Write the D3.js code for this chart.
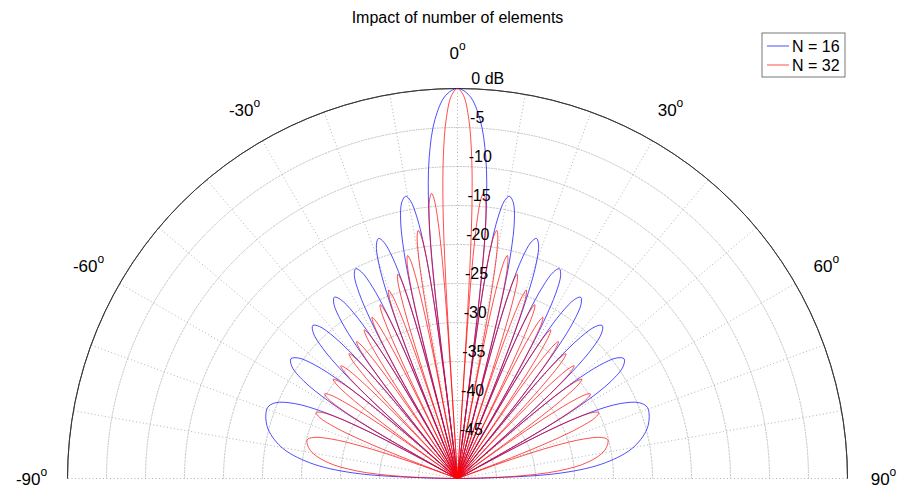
<!DOCTYPE html>
<html>
<head>
<meta charset="utf-8">
<title>Impact of number of elements</title>
<script src="https://cdn.jsdelivr.net/npm/d3@7"></script>
<style>
  body { margin: 0; background: #fff; }
  text { font-family: "Liberation Sans", Arial, sans-serif; fill: #000; }
</style>
</head>
<body>
<div id="chart"></div>
<script>
// ---- data (one side, the pattern is symmetric) ----
var seriesNames = ["N = 16", "N = 32"];
var seriesColors = ["#0000ff", "#ff0000"];

// N = 16: null angles (deg) and side lobe peaks
var nulls16 = [7.2, 14.5, 22.0, 30.0, 38.7, 48.6, 61.0, 90];
var peakAngles16 = [10.4, 18.2, 25.9, 34.2, 43.4, 54.3, 69.6];
var peakDb16 = [-13.2, -17.6, -20.1, -21.9, -23.0, -23.7, -24.0];

// N = 32
var nulls32 = [3.6, 7.2, 10.8, 14.5, 18.2, 22.0, 25.9, 30.0, 34.2, 38.7, 43.4, 48.6, 54.3, 61.0, 69.6, 90];
var peakAngles32 = [5.2, 9.0, 12.6, 16.3, 20.1, 24.0, 27.9, 32.1, 36.4, 41.0, 46.0, 51.4, 57.5, 65.0, 75.6];
var peakDb32 = [-13.3, -17.8, -20.7, -22.7, -24.3, -25.6, -26.6, -27.5, -28.2, -28.8, -29.2, -29.6, -29.8, -30.0, -30.1];

// outline of one lobe: fraction of the way from peak to null, and drop in dB
var mainLobeShape = [[0, 0], [0.25, -0.9], [0.5, -3.9], [0.7, -8.7], [0.85, -15.4], [0.95, -25.6], [1, -99]];
var sideLobeShape = [[0, 0], [0.25, -0.7], [0.5, -3.0], [0.7, -6.9], [0.85, -12.6], [0.95, -22.1], [1, -99]];

var dbTicks = [0, -5, -10, -15, -20, -25, -30, -35, -40, -45];
var angleTicks = [-90, -60, -30, 0, 30, 60, 90];
var spokeAngles = d3.range(-90, 91, 10);

// ---- layout ----
var W = 902, H = 490;
var cx = 457.5, cy = 478.5, R = 390;

var svg = d3.select("#chart").append("svg")
  .attr("width", W).attr("height", H);

var r = d3.scaleLinear().domain([-50, 0]).range([0, R]).clamp(true);
var rad = function(deg) { return deg * Math.PI / 180; };

var g = svg.append("g").attr("transform", "translate(" + cx + "," + cy + ")");

// grid circles (dotted)
g.selectAll(".ring")
  .data(dbTicks.filter(function(d) { return d < 0; }))
  .enter().append("path")
    .attr("class", "ring")
    .attr("d", function(d) {
      return d3.arc()({innerRadius: r(d), outerRadius: r(d), startAngle: rad(-90), endAngle: rad(90)});
    })
    .attr("fill", "none")
    .attr("stroke", "#a0a0a0")
    .attr("stroke-width", 0.8)
    .attr("stroke-dasharray", "1,2.5");

// spokes
g.selectAll(".spoke")
  .data(spokeAngles)
  .enter().append("line")
    .attr("class", "spoke")
    .attr("x1", 0).attr("y1", 0)
    .attr("x2", function(d) { return R * Math.sin(rad(d)); })
    .attr("y2", function(d) { return -R * Math.cos(rad(d)); })
    .attr("stroke", "#a0a0a0")
    .attr("stroke-width", 0.8)
    .attr("stroke-dasharray", "1,2.5");

// outer circle
g.append("path")
  .attr("d", d3.arc()({innerRadius: R, outerRadius: R, startAngle: rad(-90), endAngle: rad(90)}))
  .attr("fill", "none")
  .attr("stroke", "#333")
  .attr("stroke-width", 0.9);

// ---- pattern ----
function lobePoints(peakAng, peakDb, nullLeft, nullRight, shape) {
  var pts = [];
  // from the left null up to the peak
  for (var i = shape.length - 1; i >= 0; i--) {
    var f = shape[i][0];
    pts.push([peakAng - f * (peakAng - nullLeft), peakDb + shape[i][1]]);
  }
  for (var j = 1; j < shape.length; j++) {
    var f2 = shape[j][0];
    pts.push([peakAng + f2 * (nullRight - peakAng), peakDb + shape[j][1]]);
  }
  // drop repeated points at the centre
  return pts.filter(function(p, k) {
    if (p[1] > -50) return true;
    return k === 0 || k === pts.length - 1;
  });
}

function buildLobes(nulls, peakAngles, peakDb) {
  var lobes = [];
  lobes.push(lobePoints(0, 0, -nulls[0], nulls[0], mainLobeShape));
  peakAngles.forEach(function(a, i) {
    lobes.push(lobePoints(a, peakDb[i], nulls[i], nulls[i + 1], sideLobeShape));
    lobes.push(lobePoints(-a, peakDb[i], -nulls[i + 1], -nulls[i], sideLobeShape));
  });
  return lobes;
}

var series = [
  buildLobes(nulls16, peakAngles16, peakDb16),
  buildLobes(nulls32, peakAngles32, peakDb32)
];

var radial = d3.lineRadial()
  .angle(function(d) { return rad(d[0]); })
  .radius(function(d) { return r(d[1]); })
  .curve(d3.curveCatmullRom.alpha(0.5));

series.forEach(function(lobes, s) {
  g.append("g")
    .selectAll("path")
    .data(lobes)
    .enter().append("path")
      .attr("d", radial)
      .attr("fill", "none")
      .attr("stroke", seriesColors[s])
      .attr("stroke-width", 0.7);
});

// dB labels
g.selectAll(".dblabel")
  .data(dbTicks)
  .enter().append("text")
    .attr("class", "dblabel")
    .attr("x", function(d) { return 1 + r(d) * 0.033; })
    .attr("y", function(d) { return -r(d) - 10; })
    .attr("dominant-baseline", "central")
    .attr("font-size", 16)
    .text(function(d) { return d === 0 ? "0 dB" : d; });

// angle labels
var lab = g.selectAll(".anglabel")
  .data(angleTicks)
  .enter().append("text")
    .attr("class", "anglabel")
    .attr("x", function(d) { return 426 * Math.sin(rad(d)); })
    .attr("y", function(d) { return -426 * Math.cos(rad(d)); })
    .attr("text-anchor", "middle")
    .attr("dominant-baseline", "central")
    .attr("font-size", 17);
lab.append("tspan").text(function(d) { return d; });
lab.append("tspan").attr("font-size", 12).attr("dy", -7).text("o");

// title
svg.append("text")
  .attr("x", cx).attr("y", 17)
  .attr("text-anchor", "middle")
  .attr("dominant-baseline", "central")
  .attr("font-size", 16)
  .text("Impact of number of elements");

// legend
var leg = svg.append("g").attr("transform", "translate(762,33)");
leg.append("rect")
  .attr("width", 83).attr("height", 44)
  .attr("fill", "#fff").attr("stroke", "#555").attr("stroke-width", 0.8);
seriesNames.forEach(function(name, i) {
  var y = 13 + i * 19;
  leg.append("line")
    .attr("x1", 5).attr("x2", 27).attr("y1", y).attr("y2", y)
    .attr("stroke", seriesColors[i]).attr("stroke-width", 0.7);
  leg.append("text")
    .attr("x", 30).attr("y", y)
    .attr("dominant-baseline", "central")
    .attr("font-size", 16)
    .text(name);
});
</script>
</body>
</html>
